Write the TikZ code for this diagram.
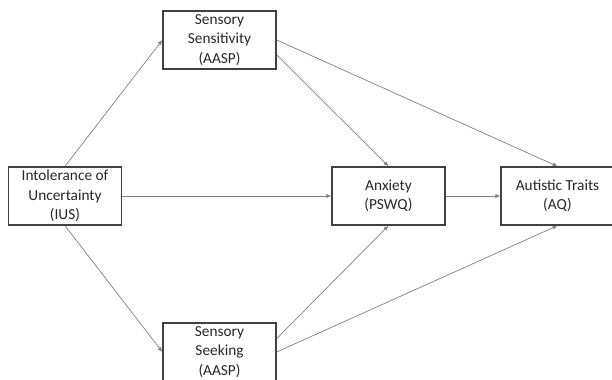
\documentclass[tikz,border=0pt]{standalone}
\usepackage{fontspec}
\setmainfont{Carlito}
\usepackage{xcolor}
\usetikzlibrary{arrows.meta,calc}

\begin{document}
\begin{tikzpicture}[align=center,
  var/.style={draw=black!75,line width=0.9pt,minimum width=2.825cm,minimum height=1.45cm,inner sep=0pt,
    font=\fontsize{10.9}{13.8}\selectfont,text=black!85},
  arr/.style={draw=black!50,line width=0.5pt,-{Latex[length=3.5pt,width=3pt]}}]
\useasboundingbox (0,0) rectangle (15.3,9.5);
\clip (0,0) rectangle (15.3,9.5);
\node[var] (ius) at (1.625,4.6) {Intolerance of\\Uncertainty\\(IUS)};
\node[var] (sens) at (5.4875,8.5) {Sensory\\Sensitivity\\(AASP)};
\node[var] (seek) at (5.4875,0.7) {Sensory\\Seeking\\(AASP)};
\node[var] (anx) at (9.7125,4.6) {Anxiety\\(PSWQ)};
\node[var] (aq) at (13.9375,4.6) {Autistic Traits\\(AQ)};
\coordinate (sensA) at ($(sens.east)!0.5!(sens.south east)$);
\coordinate (seekA) at ($(seek.east)!0.45!(seek.north east)$);
\foreach \a/\b in {ius.north/sens.west,ius.south/seek.west,ius.east/anx.west,
  sensA/anx.north,seekA/anx.south,sens.east/aq.north,seek.east/aq.south,anx.east/aq.west}{
\draw[arr] (\a) -- (\b);
}
\end{tikzpicture}
\end{document}
